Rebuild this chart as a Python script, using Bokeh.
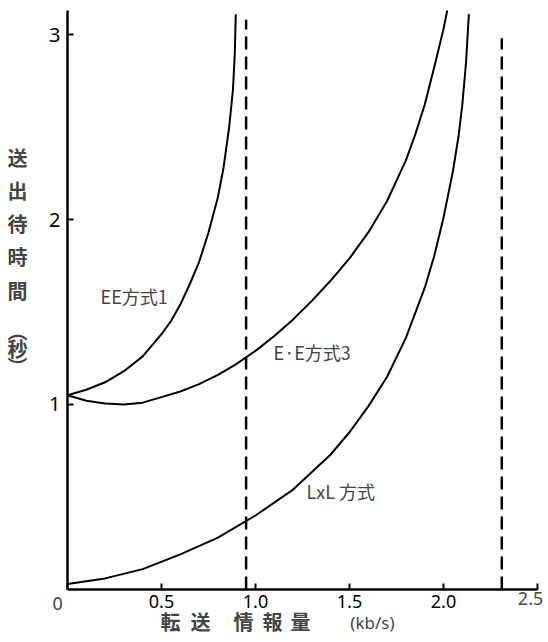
from bokeh.plotting import figure
from bokeh.models import Range1d, FixedTicker, Label
from bokeh.embed import file_html
from bokeh.resources import INLINE

# ---- data ----
x_ticks = [0, 0.5, 1.0, 1.5, 2.0, 2.5]
x_tick_labels = ["0", "0.5", "1.0", "1.5", "2.0", "2.5"]
y_ticks = [1, 2, 3]
y_tick_labels = ["1", "2", "3"]

ee1_x = [0.00, 0.10, 0.20, 0.30, 0.40, 0.50, 0.55, 0.60, 0.65, 0.70, 0.75, 0.80,
         0.83, 0.86, 0.88, 0.89, 0.895]
ee1_y = [1.05, 1.08, 1.12, 1.18, 1.26, 1.38, 1.45, 1.54, 1.65, 1.77, 1.93, 2.12,
         2.28, 2.50, 2.70, 2.90, 3.11]

ee3_x = [0.00, 0.10, 0.20, 0.30, 0.40, 0.50, 0.60, 0.70, 0.80, 0.90, 1.00, 1.10,
         1.20, 1.30, 1.40, 1.50, 1.60, 1.70, 1.80, 1.85, 1.90, 1.95, 2.00, 2.02]
ee3_y = [1.05, 1.02, 1.005, 1.00, 1.01, 1.04, 1.07, 1.11, 1.16, 1.22, 1.29, 1.37,
         1.46, 1.56, 1.67, 1.79, 1.93, 2.10, 2.32, 2.46, 2.62, 2.82, 3.03, 3.13]

lxl_x = [0.00, 0.20, 0.40, 0.60, 0.80, 1.00, 1.20, 1.40, 1.50, 1.60, 1.70, 1.80,
         1.90, 1.95, 2.00, 2.05, 2.08, 2.10, 2.12, 2.135]
lxl_y = [0.03, 0.06, 0.11, 0.19, 0.28, 0.40, 0.54, 0.73, 0.85, 0.99, 1.15, 1.36,
         1.63, 1.80, 2.01, 2.26, 2.45, 2.62, 2.85, 3.11]

limit_x = [0.95, 2.31]
limit_top = [3.08, 2.98]

series_names = ["EE方式1", "E·E方式3", "LxL 方式"]
y_label_chars = ["送", "出", "待", "時", "間", "︵", "秒", "︶"]
x_label_chars = ["転", "送", "情", "報", "量"]
x_unit = "(kb/s)"

JP = "Noto Sans CJK JP"
NUM = "Noto Sans"

# frame covers the whole canvas; axes are pinned at 0 and bounded
p = figure(width=546, height=640,
           x_range=Range1d(-0.3564, 2.5479), y_range=Range1d(-0.2757, 3.1838),
           output_backend="svg", toolbar_location=None,
           min_border_left=0, min_border_right=0,
           min_border_top=0, min_border_bottom=0)
p.outline_line_color = None
p.grid.visible = False
p.background_fill_color = "white"
p.border_fill_color = "white"

for ax in (p.xaxis, p.yaxis):
    ax.fixed_location = 0
    ax.axis_line_width = 2.5
    ax.axis_line_color = "black"
    ax.major_tick_in = 6
    ax.major_tick_out = 0
    ax.major_tick_line_width = 2
    ax.minor_tick_line_color = None
    ax.major_label_text_font = NUM
    ax.major_label_text_color = "black"

p.xaxis.bounds = (0, 2.5)
p.xaxis.ticker = FixedTicker(ticks=x_ticks)
p.xaxis.major_label_overrides = {t: ("" if t in (0, 2.5) else l)
                                 for t, l in zip(x_ticks, x_tick_labels)}
p.xaxis.major_label_text_font_size = "18px"
p.xaxis.major_label_standoff = 6

p.yaxis.bounds = (0, 3.13)
p.yaxis.ticker = FixedTicker(ticks=y_ticks)
p.yaxis.major_label_overrides = {t: l for t, l in zip(y_ticks, y_tick_labels)}
p.yaxis.major_label_text_font_size = "20px"
p.yaxis.major_label_standoff = 7

# origin and last x tick labels (offset as in the reference)
p.add_layout(Label(x=-0.053, y=-0.076, text=x_tick_labels[0], text_font=NUM,
                   text_font_size="18px", text_align="center", text_baseline="middle"))
p.add_layout(Label(x=2.463, y=-0.049, text=x_tick_labels[-1], text_font=NUM,
                   text_font_size="18px", text_align="center", text_baseline="middle"))

# curves
for xs, ys in ((ee1_x, ee1_y), (ee3_x, ee3_y), (lxl_x, lxl_y)):
    p.line(xs, ys, line_color="black", line_width=2)

# dashed limits
for lx, lt in zip(limit_x, limit_top):
    p.line([lx, lx], [0, lt], line_color="black", line_width=2.5, line_dash="13 7")

# curve labels
label_pos = [(0.176, 1.589), (1.096, 1.286), (1.271, 0.535)]
for name, (lx, ly) in zip(series_names, label_pos):
    p.add_layout(Label(x=lx, y=ly, text=name, text_font=JP, text_font_size="18px",
                       text_align="left", text_baseline="middle"))

# y axis title (vertical stacked characters)
y_char_pos = [2.335, 2.157, 1.978, 1.80, 1.616, 1.40, 1.303, 1.205]
for ch, cy in zip(y_label_chars, y_char_pos):
    p.add_layout(Label(x=-0.266, y=cy, text=ch, text_font=JP, text_font_size="20px",
                       text_font_style="bold", text_align="center", text_baseline="middle"))

# x axis title
x_char_pos = [0.548, 0.707, 0.936, 1.09, 1.239]
for ch, cx in zip(x_label_chars, x_char_pos):
    p.add_layout(Label(x=cx, y=-0.173, text=ch, text_font=JP, text_font_size="20px",
                       text_font_style="bold", text_align="center", text_baseline="middle"))
p.add_layout(Label(x=1.622, y=-0.178, text=x_unit, text_font=NUM,
                   text_font_size="17px", text_align="center", text_baseline="middle"))

open("out.html", "w").write(file_html(p, INLINE))
